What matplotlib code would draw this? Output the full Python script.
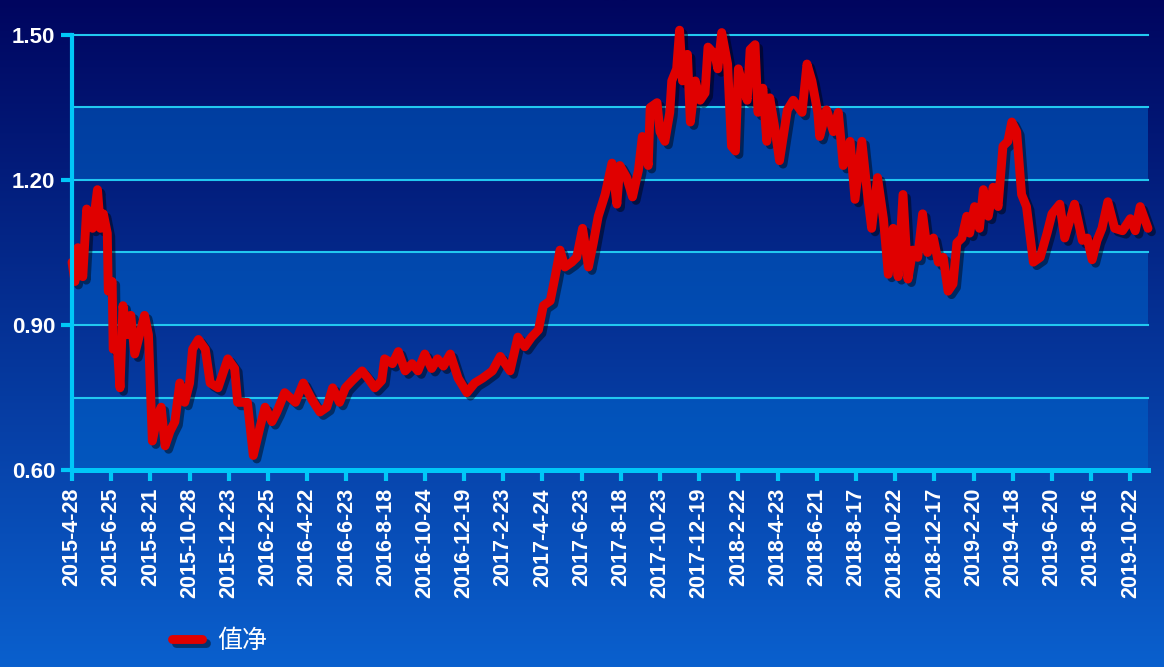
import numpy as np
import matplotlib.pyplot as plt
from matplotlib import patheffects as pe

plt.rcParams['font.family'] = ['Liberation Sans', 'Noto Sans CJK SC', 'DejaVu Sans']

# x tick labels, one every 40 trading days
tick_labels = ['2015-4-28', '2015-6-25', '2015-8-21', '2015-10-28', '2015-12-23',
               '2016-2-25', '2016-4-22', '2016-6-23', '2016-8-18', '2016-10-24',
               '2016-12-19', '2017-2-23', '2017-4-24', '2017-6-23', '2017-8-18',
               '2017-10-23', '2017-12-19', '2018-2-22', '2018-4-23', '2018-6-21',
               '2018-8-17', '2018-10-22', '2018-12-17', '2019-2-20', '2019-4-18',
               '2019-6-20', '2019-8-16', '2019-10-22']
tick_step = 40
n_days = 1099

# trading-day index and net value
day_idx = [0, 3, 6, 11, 15, 21, 26, 29, 32, 36, 37, 41, 42, 46, 49, 52, 56, 60, 64, 69,
           74, 78, 82, 87, 91, 95, 100, 105, 110, 115, 120, 123, 129, 136, 141, 149, 159, 166, 169, 179,
           185, 192, 197, 204, 209, 217, 228, 236, 245, 253, 260, 266, 273, 279, 286, 296, 302, 309, 316, 319,
           327, 333, 340, 347, 353, 360, 367, 373, 379, 386, 394, 403, 411, 419, 429, 437, 447, 455, 462, 469,
           476, 481, 488, 493, 498, 503, 510, 515, 521, 527, 532, 537, 544, 551, 556, 559, 566, 572, 578, 582,
           588, 590, 597, 600, 605, 610, 612, 617, 620, 623, 628, 631, 636, 641, 646, 649, 656, 659, 663, 669,
           673, 677, 680, 685, 689, 692, 697, 700, 705, 709, 712, 717, 722, 730, 736, 745, 750, 755, 761, 763,
           770, 777, 782, 787, 794, 799, 806, 812, 816, 822, 828, 833, 838, 843, 848, 853, 858, 863, 868, 873,
           879, 884, 889, 894, 899, 903, 908, 913, 916, 921, 926, 930, 935, 940, 945, 950, 955, 959, 964, 969,
           974, 981, 988, 995, 1000, 1008, 1013, 1023, 1031, 1036, 1041, 1046, 1051, 1057, 1064, 1072, 1080, 1085, 1090, 1098]
nav = [1.03, 0.99, 1.06, 1.00, 1.14, 1.10, 1.18, 1.10, 1.13, 1.09, 0.97, 0.99, 0.85, 0.86, 0.77, 0.94, 0.88, 0.92, 0.84, 0.88,
       0.92, 0.88, 0.66, 0.71, 0.73, 0.65, 0.68, 0.70, 0.78, 0.74, 0.78, 0.85, 0.87, 0.85, 0.78, 0.77, 0.83, 0.81, 0.74, 0.74,
       0.63, 0.69, 0.73, 0.70, 0.72, 0.76, 0.74, 0.78, 0.745, 0.72, 0.73, 0.77, 0.74, 0.77, 0.785, 0.805, 0.79, 0.77, 0.785, 0.83,
       0.82, 0.845, 0.805, 0.82, 0.805, 0.84, 0.81, 0.83, 0.815, 0.84, 0.79, 0.76, 0.78, 0.79, 0.805, 0.835, 0.805, 0.875, 0.855, 0.875,
       0.89, 0.94, 0.95, 1.00, 1.055, 1.02, 1.03, 1.04, 1.10, 1.02, 1.07, 1.125, 1.17, 1.235, 1.15, 1.23, 1.205, 1.165, 1.22, 1.29,
       1.23, 1.35, 1.36, 1.30, 1.28, 1.34, 1.405, 1.43, 1.51, 1.405, 1.46, 1.32, 1.405, 1.365, 1.38, 1.475, 1.46, 1.43, 1.505, 1.44,
       1.27, 1.26, 1.43, 1.39, 1.365, 1.47, 1.48, 1.34, 1.39, 1.28, 1.37, 1.31, 1.24, 1.345, 1.365, 1.34, 1.44, 1.405, 1.34, 1.29,
       1.345, 1.30, 1.34, 1.23, 1.28, 1.16, 1.28, 1.165, 1.10, 1.205, 1.12, 1.005, 1.10, 1.00, 1.17, 0.995, 1.055, 1.04, 1.13, 1.05,
       1.08, 1.03, 1.04, 0.97, 0.985, 1.07, 1.08, 1.125, 1.09, 1.145, 1.10, 1.18, 1.125, 1.185, 1.145, 1.27, 1.28, 1.32, 1.30, 1.17,
       1.145, 1.03, 1.04, 1.09, 1.13, 1.15, 1.08, 1.15, 1.075, 1.08, 1.035, 1.075, 1.10, 1.155, 1.10, 1.095, 1.12, 1.095, 1.145, 1.10]

label = '值净'

fig = plt.figure(figsize=(11.64, 6.67), dpi=100)

# gradient background
bg = fig.add_axes([0, 0, 1, 1], zorder=-10)
top = np.array([0, 5, 95]) / 255
bottom = np.array([10, 96, 206]) / 255
t = np.linspace(0, 1, 256)[:, None]
grad = (top * (1 - t) + bottom * t)[:, None, :]
bg.imshow(grad, aspect='auto', extent=[0, 1, 0, 1])
bg.axis('off')

ax = fig.add_axes([72 / 1164, 197 / 667, 1076 / 1164, 435 / 667])
ax.set_facecolor('none')

cyan = '#00c8f8'
for lo in [0.60, 0.90, 1.20]:
    ax.axhspan(lo, lo + 0.15, color='#0068d0', alpha=0.5, lw=0, zorder=0)
for y in [0.75, 0.90, 1.05, 1.20, 1.35, 1.50]:
    ax.axhline(y, color='#22c8f0', lw=1.5, zorder=1, clip_on=False)

ax.plot(day_idx, nav, color='#e00000', lw=6.4, solid_joinstyle='round',
        solid_capstyle='round', label=label, zorder=3, clip_on=False,
        path_effects=[pe.SimpleLineShadow(offset=(2.5, -2.5), shadow_color='black', alpha=0.45),
                      pe.Normal()])

ax.set_xlim(0, n_days - 1)
ax.set_ylim(0.60, 1.50)
ax.set_yticks([0.60, 0.90, 1.20, 1.50])
ax.set_yticklabels(['%.2f' % v for v in [0.60, 0.90, 1.20, 1.50]])
ax.set_xticks(np.arange(len(tick_labels)) * tick_step)
ax.set_xticklabels(tick_labels, rotation=90)

for s in ['top', 'right']:
    ax.spines[s].set_visible(False)
ax.spines['left'].set_color(cyan)
ax.spines['left'].set_linewidth(3)
ax.spines['bottom'].set_color(cyan)
ax.spines['bottom'].set_linewidth(3.6)
ax.spines['left'].set_zorder(4)
ax.spines['bottom'].set_zorder(4)

ax.tick_params(axis='y', length=8, width=3, color=cyan, pad=4,
               labelsize=16, labelcolor='white')
ax.tick_params(axis='x', length=8, width=3, color=cyan, pad=5,
               labelsize=15.5, labelcolor='white')
for lab in ax.get_xticklabels() + ax.get_yticklabels():
    lab.set_fontweight('bold')

leg = fig.legend(loc='center left', bbox_to_anchor=(150 / 1164, 26 / 667),
                 frameon=False, handlelength=1.2, handletextpad=0.6,
                 prop={'family': ['Noto Sans CJK SC', 'DejaVu Sans'], 'size': 18})
for txt in leg.get_texts():
    txt.set_color('white')

fig.savefig('out.png', dpi=100)
